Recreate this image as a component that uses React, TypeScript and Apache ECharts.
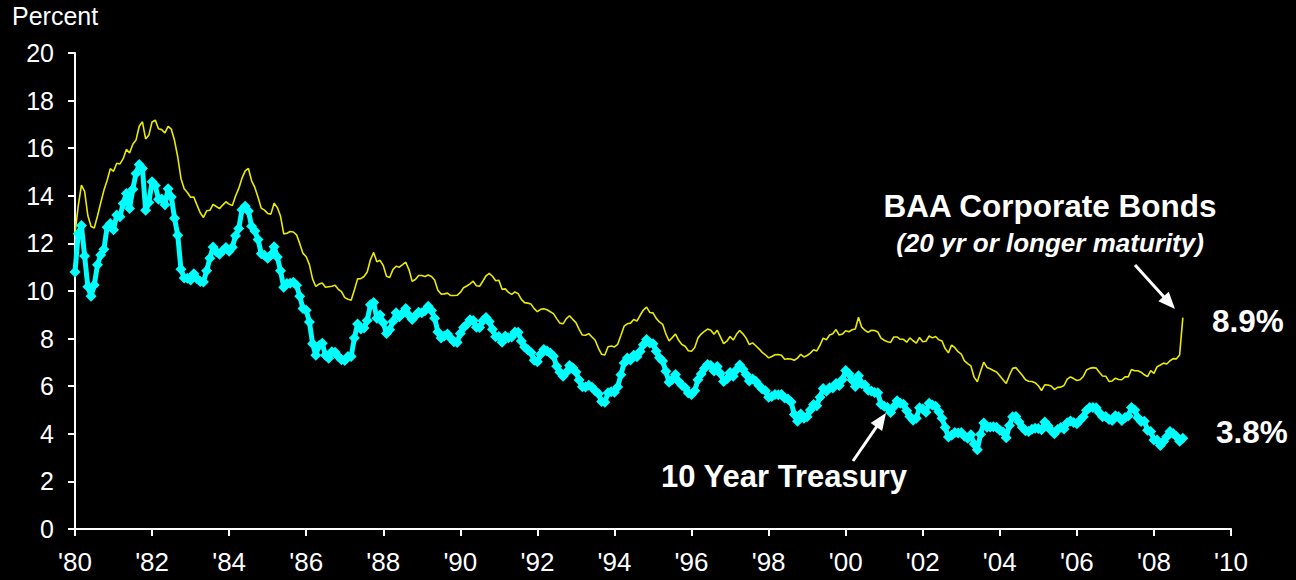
import React, { useEffect, useRef } from "react";
import * as echarts from "echarts";

// Monthly yields, Jan 1980 .. Oct 2008 (percent)
const START_YEAR = 1980;

const treasury10y: number[] = [
  // 1980
  10.8, 12.41, 12.75, 11.47, 10.18, 9.78, 10.25, 11.1, 11.51, 11.75, 12.68, 12.84,
  // 1981
  12.57, 13.19, 13.12, 13.68, 14.1, 13.47, 14.28, 14.94, 15.32, 15.15, 13.39, 13.72,
  // 1982
  14.59, 14.43, 13.86, 13.87, 13.62, 14.3, 13.95, 13.06, 12.34, 10.91, 10.55, 10.54,
  // 1983
  10.46, 10.72, 10.51, 10.4, 10.38, 10.85, 11.38, 11.85, 11.65, 11.54, 11.69, 11.83,
  // 1984
  11.67, 11.84, 12.32, 12.63, 13.41, 13.56, 13.36, 12.72, 12.52, 12.16, 11.57, 11.5,
  // 1985
  11.38, 11.51, 11.86, 11.43, 10.85, 10.16, 10.31, 10.33, 10.37, 10.24, 9.78, 9.26,
  // 1986
  9.19, 8.7, 7.78, 7.3, 7.71, 7.8, 7.3, 7.17, 7.45, 7.43, 7.25, 7.11,
  // 1987
  7.08, 7.25, 7.25, 8.02, 8.61, 8.4, 8.45, 8.76, 9.42, 9.52, 8.86, 8.99,
  // 1988
  8.67, 8.21, 8.37, 8.72, 9.09, 8.92, 9.06, 9.26, 8.98, 8.8, 8.96, 9.11,
  // 1989
  9.09, 9.17, 9.36, 9.18, 8.86, 8.28, 8.02, 8.11, 8.19, 8.01, 7.87, 7.84,
  // 1990
  8.21, 8.47, 8.59, 8.79, 8.76, 8.48, 8.47, 8.75, 8.89, 8.72, 8.39, 8.08,
  // 1991
  8.09, 7.85, 8.11, 8.04, 8.07, 8.28, 8.27, 7.9, 7.65, 7.53, 7.42, 7.09,
  // 1992
  7.03, 7.34, 7.54, 7.48, 7.39, 7.26, 6.84, 6.59, 6.42, 6.59, 6.87, 6.77,
  // 1993
  6.6, 6.26, 5.98, 5.97, 6.04, 5.96, 5.81, 5.68, 5.36, 5.33, 5.72, 5.77,
  // 1994
  5.75, 5.97, 6.48, 6.97, 7.18, 7.1, 7.3, 7.24, 7.46, 7.74, 7.96, 7.81,
  // 1995
  7.78, 7.47, 7.2, 7.06, 6.63, 6.17, 6.28, 6.49, 6.2, 6.04, 5.93, 5.71,
  // 1996
  5.65, 5.81, 6.27, 6.51, 6.74, 6.91, 6.87, 6.64, 6.83, 6.53, 6.2, 6.3,
  // 1997
  6.58, 6.42, 6.69, 6.89, 6.71, 6.49, 6.22, 6.3, 6.21, 6.03, 5.88, 5.81,
  // 1998
  5.54, 5.57, 5.65, 5.64, 5.65, 5.5, 5.46, 5.34, 4.81, 4.53, 4.83, 4.65,
  // 1999
  4.72, 5.0, 5.23, 5.18, 5.54, 5.9, 5.79, 5.94, 5.92, 6.11, 6.03, 6.28,
  // 2000
  6.66, 6.52, 6.26, 5.99, 6.44, 6.1, 6.05, 5.83, 5.8, 5.74, 5.72, 5.24,
  // 2001
  5.16, 5.1, 4.89, 5.14, 5.39, 5.28, 5.24, 4.97, 4.73, 4.57, 4.65, 5.09,
  // 2002
  5.04, 4.91, 5.28, 5.21, 5.16, 4.93, 4.65, 4.26, 3.87, 3.94, 4.05, 4.03,
  // 2003
  4.05, 3.9, 3.81, 3.96, 3.57, 3.33, 3.98, 4.45, 4.27, 4.29, 4.3, 4.27,
  // 2004
  4.15, 4.08, 3.83, 4.35, 4.72, 4.73, 4.5, 4.28, 4.13, 4.1, 4.19, 4.23,
  // 2005
  4.22, 4.17, 4.5, 4.34, 4.14, 4.0, 4.18, 4.26, 4.2, 4.46, 4.54, 4.47,
  // 2006
  4.42, 4.57, 4.72, 4.99, 5.11, 5.11, 5.09, 4.88, 4.72, 4.73, 4.6, 4.56,
  // 2007
  4.76, 4.72, 4.56, 4.69, 4.75, 5.1, 5.0, 4.67, 4.52, 4.53, 4.15, 4.1,
  // 2008
  3.74, 3.74, 3.51, 3.68, 3.88, 4.1, 4.01, 3.89, 3.69, 3.81,
];

const baaCorporate: number[] = [
  // 1980
  12.42, 13.57, 14.45, 14.19, 13.17, 12.71, 12.65, 13.15, 13.7, 14.23, 14.64, 15.14,
  // 1981
  15.03, 15.37, 15.34, 15.56, 15.95, 15.8, 16.17, 16.34, 16.92, 17.11, 16.39, 16.55,
  // 1982
  17.1, 17.18, 16.82, 16.78, 16.64, 16.92, 16.8, 16.32, 15.63, 14.73, 14.3, 14.14,
  // 1983
  13.94, 13.95, 13.61, 13.29, 13.09, 13.37, 13.39, 13.64, 13.55, 13.46, 13.61, 13.75,
  // 1984
  13.65, 13.59, 13.99, 14.31, 14.74, 15.05, 15.15, 14.63, 14.35, 13.94, 13.48, 13.4,
  // 1985
  13.26, 13.23, 13.69, 13.51, 13.15, 12.4, 12.43, 12.5, 12.48, 12.36, 11.99, 11.58,
  // 1986
  11.44, 11.11, 10.5, 10.19, 10.29, 10.34, 10.16, 10.18, 10.2, 10.24, 10.07, 9.97,
  // 1987
  9.72, 9.65, 9.61, 10.04, 10.51, 10.52, 10.61, 10.8, 11.31, 11.62, 11.23, 11.29,
  // 1988
  11.07, 10.62, 10.57, 10.9, 11.04, 11.0, 11.11, 11.21, 10.9, 10.41, 10.48, 10.65,
  // 1989
  10.65, 10.61, 10.67, 10.61, 10.46, 10.03, 9.87, 9.88, 9.91, 9.81, 9.81, 9.82,
  // 1990
  9.94, 10.14, 10.21, 10.3, 10.41, 10.22, 10.2, 10.41, 10.64, 10.74, 10.62, 10.43,
  // 1991
  10.45, 10.07, 10.09, 9.94, 9.86, 9.96, 9.89, 9.65, 9.51, 9.49, 9.45, 9.26,
  // 1992
  9.13, 9.23, 9.25, 9.21, 9.13, 9.05, 8.84, 8.65, 8.62, 8.84, 8.96, 8.81,
  // 1993
  8.67, 8.39, 8.15, 8.14, 8.21, 8.07, 7.93, 7.6, 7.34, 7.31, 7.66, 7.69,
  // 1994
  7.65, 7.76, 8.13, 8.52, 8.62, 8.65, 8.8, 8.74, 8.98, 9.2, 9.32, 9.1,
  // 1995
  9.08, 8.85, 8.7, 8.6, 8.2, 7.9, 8.04, 8.19, 7.93, 7.75, 7.68, 7.49,
  // 1996
  7.47, 7.63, 8.03, 8.19, 8.3, 8.4, 8.35, 8.18, 8.35, 8.07, 7.79, 7.89,
  // 1997
  8.09, 7.94, 8.18, 8.34, 8.2, 8.02, 7.75, 7.82, 7.7, 7.57, 7.42, 7.32,
  // 1998
  7.19, 7.25, 7.32, 7.33, 7.3, 7.13, 7.15, 7.14, 7.09, 7.18, 7.34, 7.23,
  // 1999
  7.29, 7.39, 7.53, 7.48, 7.72, 8.02, 7.95, 8.15, 8.2, 8.38, 8.15, 8.19,
  // 2000
  8.33, 8.29, 8.37, 8.4, 8.9, 8.48, 8.35, 8.26, 8.35, 8.34, 8.28, 8.02,
  // 2001
  7.93, 7.87, 7.84, 8.07, 8.07, 7.97, 7.97, 7.85, 8.03, 7.91, 7.81, 8.05,
  // 2002
  7.87, 7.89, 8.11, 8.03, 8.09, 7.95, 7.9, 7.58, 7.4, 7.73, 7.62, 7.45,
  // 2003
  7.35, 7.06, 6.95, 6.85, 6.38, 6.19, 6.62, 7.01, 6.79, 6.73, 6.66, 6.6,
  // 2004
  6.44, 6.27, 6.11, 6.46, 6.75, 6.78, 6.62, 6.46, 6.27, 6.21, 6.2, 6.15,
  // 2005
  6.02, 5.82, 6.06, 6.05, 6.01, 5.86, 5.95, 5.96, 6.03, 6.3, 6.39, 6.32,
  // 2006
  6.24, 6.27, 6.41, 6.68, 6.75, 6.78, 6.76, 6.59, 6.43, 6.42, 6.2, 6.22,
  // 2007
  6.34, 6.28, 6.27, 6.39, 6.39, 6.7, 6.65, 6.65, 6.59, 6.48, 6.4, 6.65,
  // 2008
  6.54, 6.82, 6.89, 6.97, 6.93, 7.07, 7.16, 7.15, 7.31, 8.88,
];

const X_MIN = 1980;
const X_MAX = 2010;
const X_STEP = 2;
const Y_MIN = 0;
const Y_MAX = 20;
const Y_STEP = 2;

const yAxisTitle = "Percent";
const baaLabel = "BAA Corporate Bonds";
const baaSubLabel = "(20 yr or longer maturity)";
const treasuryLabel = "10 Year Treasury";
const baaLast = "8.9%";
const treasuryLast = "3.8%";

const FONT = "'Liberation Sans', Arial, Helvetica, sans-serif";

const toPairs = (vals: number[]) =>
  vals.map((v, i) => [START_YEAR + i / 12, v]);

function arrow(x1: number, y1: number, x2: number, y2: number) {
  const dx = x2 - x1;
  const dy = y2 - y1;
  const len = Math.sqrt(dx * dx + dy * dy);
  const ux = dx / len;
  const uy = dy / len;
  const headLen = 17;
  const halfW = 7;
  const bx = x2 - ux * headLen;
  const by = y2 - uy * headLen;
  const px = -uy;
  const py = ux;
  return [
    {
      type: "line",
      shape: { x1, y1, x2: bx + ux * 2, y2: by + uy * 2 },
      style: { stroke: "#ffffff", lineWidth: 3 },
      silent: true,
    },
    {
      type: "polygon",
      shape: {
        points: [
          [x2, y2],
          [bx + px * halfW, by + py * halfW],
          [bx - px * halfW, by - py * halfW],
        ],
      },
      style: { fill: "#ffffff" },
      silent: true,
    },
  ];
}

export default function App() {
  const ref = useRef<HTMLDivElement>(null);

  useEffect(() => {
    if (!ref.current) return;
    const chart = echarts.init(ref.current, undefined, { renderer: "svg" });
    const option: any = {
      animation: false,
      backgroundColor: "#000000",
      grid: { left: 75, right: 65, top: 53, bottom: 51, containLabel: false },
      xAxis: {
        type: "value",
        min: X_MIN,
        max: X_MAX,
        interval: X_STEP,
        splitLine: { show: false },
        axisLine: { show: true, lineStyle: { color: "#ffffff", width: 2 } },
        axisTick: { show: true, length: 7, lineStyle: { color: "#ffffff", width: 2 } },
        axisLabel: {
          color: "#ffffff",
          fontFamily: FONT,
          fontSize: 26,
          margin: 20,
          formatter: (v: number) => "'" + String(Math.round(v)).slice(2),
        },
      },
      yAxis: {
        type: "value",
        min: Y_MIN,
        max: Y_MAX,
        interval: Y_STEP,
        splitLine: { show: false },
        axisLine: { show: true, lineStyle: { color: "#ffffff", width: 2 } },
        axisTick: { show: true, length: 7, lineStyle: { color: "#ffffff", width: 2 } },
        axisLabel: {
          color: "#ffffff",
          fontFamily: FONT,
          fontSize: 25,
          margin: 21,
        },
      },
      series: [
        {
          name: "BAA Corporate Bonds",
          type: "line",
          data: toPairs(baaCorporate),
          showSymbol: false,
          symbol: "none",
          lineStyle: { color: "#eaea00", width: 1.6 },
          z: 2,
        },
        {
          name: "10 Year Treasury",
          type: "line",
          data: toPairs(treasury10y),
          symbol: "diamond",
          symbolSize: 11,
          itemStyle: { color: "#00ffff" },
          lineStyle: { color: "#00ffff", width: 5 },
          z: 3,
        },
      ],
      graphic: [
        {
          type: "text",
          left: 12,
          top: 3,
          style: {
            text: yAxisTitle,
            fill: "#ffffff",
            font: `25px ${FONT}`,
          },
        },
        {
          type: "text",
          x: 1050,
          y: 206,
          style: {
            text: baaLabel,
            fill: "#ffffff",
            font: `bold 31.5px ${FONT}`,
            textAlign: "center",
            textVerticalAlign: "middle",
          },
        },
        {
          type: "text",
          x: 1050,
          y: 243,
          style: {
            text: baaSubLabel,
            fill: "#ffffff",
            font: `italic bold 26px ${FONT}`,
            textAlign: "center",
            textVerticalAlign: "middle",
          },
        },
        {
          type: "text",
          x: 1212,
          y: 321,
          style: {
            text: baaLast,
            fill: "#ffffff",
            font: `bold 31.5px ${FONT}`,
            textAlign: "left",
            textVerticalAlign: "middle",
          },
        },
        {
          type: "text",
          x: 1216,
          y: 432,
          style: {
            text: treasuryLast,
            fill: "#ffffff",
            font: `bold 31.5px ${FONT}`,
            textAlign: "left",
            textVerticalAlign: "middle",
          },
        },
        {
          type: "text",
          x: 784,
          y: 476,
          style: {
            text: treasuryLabel,
            fill: "#ffffff",
            font: `bold 31px ${FONT}`,
            textAlign: "center",
            textVerticalAlign: "middle",
          },
        },
        ...arrow(1135, 265, 1175, 309),
        ...arrow(853, 461, 886, 413),
      ],
    };
    chart.setOption(option);
    return () => {
      chart.dispose();
    };
  }, []);

  return (
    <div
      ref={ref}
      style={{
        position: "fixed",
        left: 0,
        top: 0,
        width: 1296,
        height: 580,
        background: "#000000",
      }}
    />
  );
}
